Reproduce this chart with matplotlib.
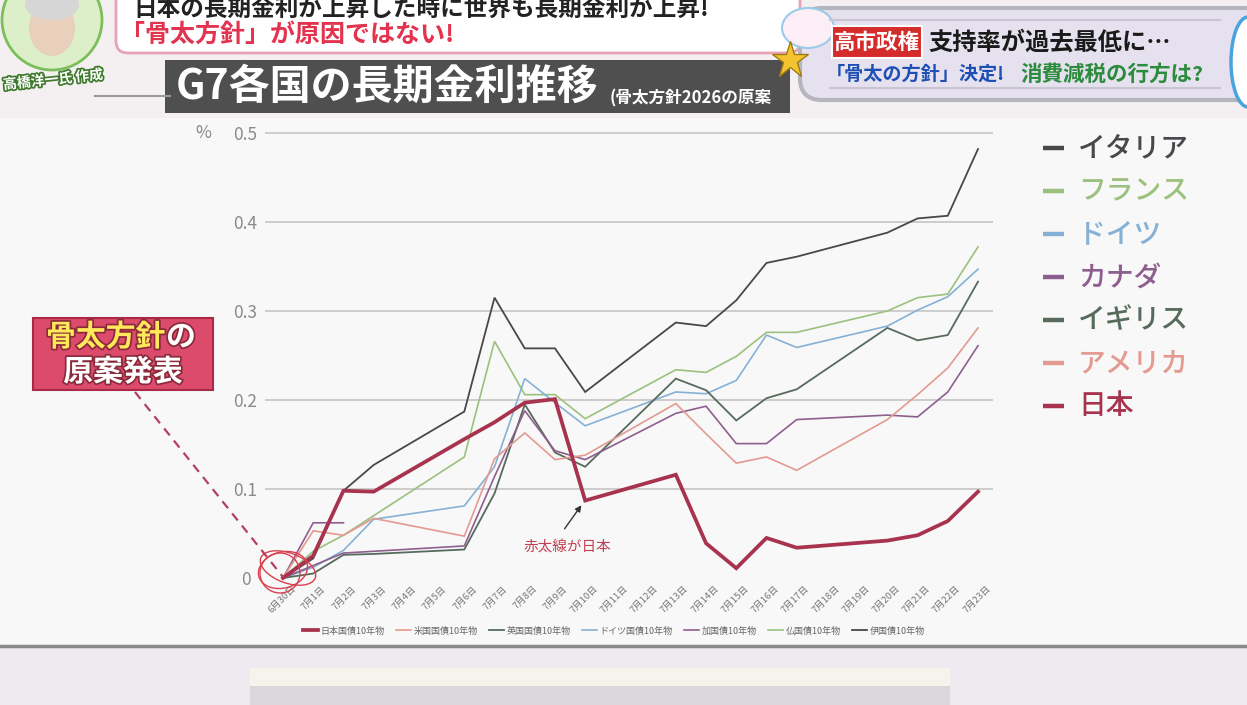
import numpy as np
import matplotlib.pyplot as plt
from matplotlib.patches import Rectangle, FancyBboxPatch, Ellipse, Circle
from matplotlib.transforms import ScaledTranslation
import matplotlib.patheffects as pe

plt.rcParams['font.family'] = ['Noto Sans CJK JP', 'DejaVu Sans']

# category axis: every calendar day
date_labels = ['6月30日', '7月1日', '7月2日', '7月3日', '7月4日', '7月5日', '7月6日',
               '7月7日', '7月8日', '7月9日', '7月10日', '7月11日', '7月12日', '7月13日',
               '7月14日', '7月15日', '7月16日', '7月17日', '7月18日', '7月19日', '7月20日',
               '7月21日', '7月22日', '7月23日']

# days with data (weekends are skipped, line joins across them)
trade_days = ['6月30日', '7月1日', '7月2日', '7月3日', '7月6日', '7月7日', '7月8日',
              '7月9日', '7月10日', '7月13日', '7月14日', '7月15日', '7月16日', '7月17日',
              '7月20日', '7月21日', '7月22日', '7月23日']

# change in 10y yield (%pt)
japan   = [0, 0.025, 0.098, 0.097, 0.156, 0.175, 0.197, 0.201, 0.087, 0.116, 0.039, 0.011, 0.045, 0.034, 0.042, 0.048, 0.064, 0.097]
usa     = [0, 0.053, 0.048, 0.067, 0.047, 0.134, 0.163, 0.133, 0.138, 0.196, 0.162, 0.129, 0.136, 0.121, 0.178, 0.206, 0.236, 0.281]
uk      = [0, 0.005, 0.026, 0.027, 0.032, 0.095, 0.195, 0.141, 0.125, 0.224, 0.211, 0.177, 0.202, 0.212, 0.281, 0.267, 0.273, 0.333]
germany = [0, 0.012, 0.031, 0.066, 0.081, 0.125, 0.224, 0.197, 0.171, 0.209, 0.207, 0.222, 0.273, 0.259, 0.283, 0.301, 0.316, 0.347]
canada  = [0, np.nan, 0.028, 0.030, 0.036, 0.114, 0.188, 0.143, 0.133, 0.185, 0.193, 0.151, 0.151, 0.178, 0.183, 0.181, 0.209, 0.261]
france  = [0, 0.030, 0.048, 0.070, 0.136, 0.266, 0.206, 0.206, 0.179, 0.234, 0.231, 0.249, 0.276, 0.276, 0.300, 0.315, 0.319, 0.372]
italy   = [0, 0.022, 0.098, 0.127, 0.187, 0.315, 0.258, 0.258, 0.209, 0.287, 0.283, 0.312, 0.354, 0.361, 0.388, 0.404, 0.407, 0.482]

# short stray segment of the Canada series around 7/1
canada_stub_days = ['6月30日', '7月1日', '7月2日']
canada_stub = [0, 0.062, 0.062]

legend_names = ['日本国債10年物', '米国国債10年物', '英国国債10年物', 'ドイツ国債10年物',
                '加国債10年物', '仏国債10年物', '伊国債10年物']
side_names = ['イタリア', 'フランス', 'ドイツ', 'カナダ', 'イギリス', 'アメリカ', '日本']

c_italy = '#48484c'
c_france = '#9cc07e'
c_germany = '#86b1d6'
c_canada = '#8e5f8e'
c_uk = '#566b5c'
c_us = '#e39a90'
c_japan = '#a8334f'


def plot_series(ax, days, values, color, lw, label=None, z=2):
    x = np.array([date_labels.index(d) for d in days])
    v = np.array(values, dtype=float)
    ok = ~np.isnan(v)
    return ax.plot(x[ok], v[ok], color=color, lw=lw, label=label, zorder=z,
                   solid_joinstyle='miter', clip_on=False)[0]


fig = plt.figure(figsize=(12.47, 7.05), dpi=100)
fig.patch.set_facecolor('#f8f8f8')

# ---- background decorations in pixel coordinates
bg = fig.add_axes([0, 0, 1, 1], zorder=0)
bg.set_xlim(0, 1247)
bg.set_ylim(705, 0)
bg.axis('off')

bg.add_patch(Rectangle((0, 0), 1247, 118, fc='#f4f0f2', ec='none'))
bg.plot([95, 170], [96, 96], color='#9a9a9a', lw=1.5)

# presenter photo + caption
bg.add_patch(Circle((52, 20), 50, fc='#dcefc8', ec='#7cbf5a', lw=2))
bg.add_patch(Ellipse((52, 28), 46, 56, fc='#e8d0bd', ec='none'))
bg.add_patch(Ellipse((52, 5), 54, 30, fc='#d6d6d6', ec='none'))
bg.text(53, 80, '高橋洋一氏 作成', fontsize=10, color='white', weight='bold', ha='center',
        va='center', rotation=6,
        path_effects=[pe.withStroke(linewidth=2.5, foreground='#3f7a2f')])

# speech bubble
bg.add_patch(FancyBboxPatch((116, -25), 684, 78, boxstyle='round,pad=0,rounding_size=12',
                            fc='white', ec='#e7a3b5', lw=2))
bg.text(133, 9, '日本の長期金利が上昇した時に世界も長期金利が上昇!', fontsize=17,
        color='#222222', va='center', weight='bold')
bg.text(120, 35, '「骨太方針」が原因ではない!', fontsize=18, color='#e2334f',
        va='center', weight='bold')

# title bar
bg.add_patch(Rectangle((165, 60), 625, 53, fc='#4f4f4f', ec='none'))
bg.text(176, 87, 'G7各国の長期金利推移', fontsize=29.5, color='white', weight='bold', va='center')
bg.text(610, 98, '(骨太方針2026の原案', fontsize=12, color='white', weight='bold', va='center')

# news banner top right
bg.add_patch(FancyBboxPatch((800, 8), 470, 92, boxstyle='round,pad=0,rounding_size=22',
                            fc='#e6e1ee', ec='#b5b5bd', lw=3))
for yy in (20, 88):
    bg.plot([830, 1220], [yy, yy], color='#c9c5d2', lw=1.5)
bg.add_patch(Ellipse((808, 28), 52, 40, fc='#fbeef6', ec='#9ccbe8', lw=1.5))
bg.add_patch(Ellipse((1248, 62), 34, 90, fc='white', ec='#4aa3e0', lw=2.5))
bg.plot([790], [60], marker='*', ms=28, color='#f4c430', mec='#a07c10', mew=1)
bg.add_patch(Rectangle((832, 26), 90, 32, fc='#d42b2b', ec='white', lw=1.5))
bg.text(877, 42, '高市政権', fontsize=15.5, color='white', weight='bold', ha='center', va='center')
bg.text(928, 42, '支持率が過去最低に…', fontsize=17.5, color='#1a1a1a', weight='bold', va='center')
bg.text(826, 74, '「骨太の方針」決定!', fontsize=13.8, color='#1e4fb5', weight='bold', va='center')
bg.text(1020, 74, '消費減税の行方は?', fontsize=15.5, color='#2a8c3c', weight='bold', va='center')

# bottom band
bg.add_patch(Rectangle((0, 646), 1247, 60, fc='#eeeaef', ec='none'))
bg.plot([0, 1247], [646, 646], color='#8a8a8a', lw=2.5)
bg.add_patch(Rectangle((250, 668), 700, 18, fc='#f4f3ec', ec='none'))
bg.add_patch(Rectangle((250, 686), 700, 19, fc='#dcd7da', ec='none'))

# ---- the chart
ax = fig.add_axes([265 / 1247, 1 - 590 / 705, 728 / 1247, 462 / 705], zorder=2)
ax.patch.set_alpha(0)
for s in ax.spines.values():
    s.set_visible(False)
ax.set_xlim(-0.596, 23.496)
ax.set_ylim(-0.0135, 0.5056)

ax.set_yticks([0, 0.1, 0.2, 0.3, 0.4, 0.5])
ax.set_yticklabels(['0', '0.1', '0.2', '0.3', '0.4', '0.5'])
ax.tick_params(axis='y', length=0, pad=14, labelsize=12.5, labelcolor='#8a8a8a')
for t in ax.get_yticklabels():
    t.set_ha('center')
ax.yaxis.grid(True, color='#c9c9c9', lw=1.3)
ax.get_ygridlines()[0].set_visible(False)
ax.set_axisbelow(True)

ax.set_xticks(range(len(date_labels)))
ax.set_xticklabels(date_labels, rotation=45, ha='right', rotation_mode='anchor',
                   fontsize=6.8, color='#777777')
ax.tick_params(axis='x', length=0, pad=0)
offset = ScaledTranslation(0.08, 0.06, fig.dpi_scale_trans)
for t in ax.get_xticklabels():
    t.set_transform(t.get_transform() + offset)

l_it = plot_series(ax, trade_days, italy, c_italy, 1.3, legend_names[6])
l_fr = plot_series(ax, trade_days, france, c_france, 1.2, legend_names[5])
l_de = plot_series(ax, trade_days, germany, c_germany, 1.2, legend_names[3])
l_uk = plot_series(ax, trade_days, uk, c_uk, 1.3, legend_names[2])
l_ca = plot_series(ax, trade_days, canada, c_canada, 1.2, legend_names[4])
plot_series(ax, canada_stub_days, canada_stub, c_canada, 1.2)
l_us = plot_series(ax, trade_days, usa, c_us, 1.2, legend_names[1])
l_jp = plot_series(ax, trade_days, japan, c_japan, 2.7, legend_names[0], z=3)

fig.text(203 / 1247, 1 - 133 / 705, '%', fontsize=12.5, color='#8a8a8a', ha='center', va='center')

fig.legend([l_jp, l_us, l_uk, l_de, l_ca, l_fr, l_it], legend_names, loc='center',
           bbox_to_anchor=(614 / 1247, 1 - 631 / 705), ncol=7, fontsize=6.5, frameon=False,
           handlelength=1.6, handletextpad=0.3, columnspacing=1.3, labelcolor='#666666')

# ---- overlay annotations
ov = fig.add_axes([0, 0, 1, 1], zorder=3)
ov.set_xlim(0, 1247)
ov.set_ylim(705, 0)
ov.axis('off')
ov.patch.set_alpha(0)

# right-hand colour key
side_colors = [c_italy, c_france, c_germany, c_canada, c_uk, c_us, c_japan]
for i, (name, col) in enumerate(zip(side_names, side_colors)):
    y = 148 + i * 43
    ov.plot([1043, 1064], [y, y], color=col, lw=3.2, solid_capstyle='butt')
    ov.text(1078, y, name, fontsize=20, color=col, va='center', ha='left', weight='medium')

# 骨太方針 box
ov.add_patch(Rectangle((33, 318), 180, 72, fc='#dc4b6c', ec='#a82a48', lw=1.5))
stroke = [pe.withStroke(linewidth=2.5, foreground='#8a2a3a')]
ov.text(46, 337, '骨太方針', fontsize=21.5, color='#ffe85a', weight='bold', va='center',
        path_effects=stroke)
ov.text(166, 337, 'の', fontsize=21.5, color='white', weight='bold', va='center',
        path_effects=stroke)
ov.text(123, 372, '原案発表', fontsize=21.5, color='white', weight='bold', va='center',
        ha='center', path_effects=stroke)
ov.plot([135, 283], [392, 577], color='#b5405e', ls=(0, (4, 3)), lw=1.6)
for (cx, cy, w, h, a) in [(283, 570, 50, 36, -15), (280, 573, 40, 40, 0), (288, 568, 58, 30, 20)]:
    ov.add_patch(Ellipse((cx, cy), w, h, angle=a, fc='none', ec='#d8404f', lw=1))

ov.text(567, 547, '赤太線が日本', fontsize=10.5, color='#c04050', ha='center', va='center')
ov.annotate('', xy=(583, 503), xytext=(563, 531),
            arrowprops=dict(arrowstyle='-|>', color='#333333', lw=1, mutation_scale=9))

fig.savefig('out.png', dpi=100, facecolor=fig.get_facecolor())
